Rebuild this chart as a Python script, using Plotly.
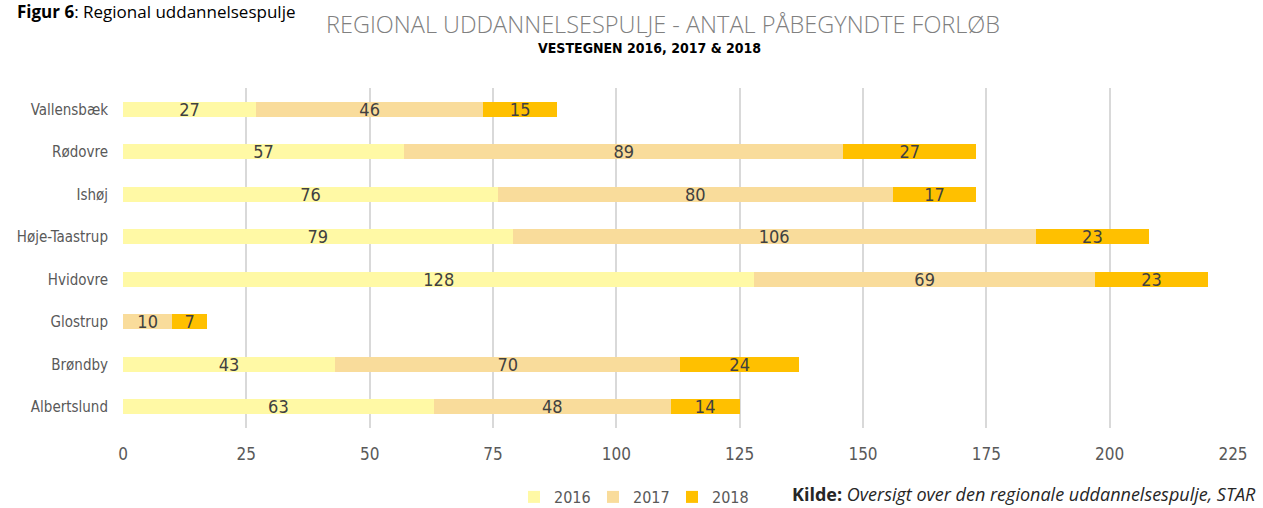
import plotly.graph_objects as go

categories = ["Vallensbæk", "Rødovre", "Ishøj", "Høje-Taastrup", "Hvidovre", "Glostrup", "Brøndby", "Albertslund"]
v2016 = [27, 57, 76, 79, 128, 0, 43, 63]
v2017 = [46, 89, 80, 106, 69, 10, 70, 48]
v2018 = [15, 27, 17, 23, 23, 7, 24, 14]
series = [("2016", v2016, "#FFF9A5"), ("2017", v2017, "#F9DC9B"), ("2018", v2018, "#FFC000")]
tick_vals = [0, 25, 50, 75, 100, 125, 150, 175, 200, 225]

FONT = "DejaVu Sans Condensed, Liberation Sans Narrow, Arial Narrow, Liberation Sans, Arial"

fig = go.Figure()
for name, vals, col in series:
    fig.add_trace(go.Bar(
        y=categories, x=vals, name=name, orientation="h",
        marker=dict(color=col, line=dict(width=0)),
        text=[str(v) if v else "" for v in vals],
        textposition="inside", insidetextanchor="middle", textangle=0,
        textfont=dict(family=FONT, size=18, color="#404040"),
        constraintext="none",
    ))

fig.update_layout(
    barmode="stack", bargap=0.64,
    width=1263, height=508,
    margin=dict(l=123, r=30, t=88, b=80, autoexpand=False),
    paper_bgcolor="white", plot_bgcolor="white",
    font=dict(family=FONT, color="#595959"),
    xaxis=dict(range=[0, 225], tickvals=tick_vals, showgrid=True, gridcolor="#D9D9D9", gridwidth=2,
               zeroline=False, showline=False, tickfont=dict(size=17, color="#595959"), ticks="",
               ticklabelstandoff=14),
    yaxis=dict(autorange="reversed", showgrid=False, showline=False, ticks="",
               tickfont=dict(size=15, color="#595959"), ticklabelstandoff=14),
    legend=dict(orientation="h", x=(514-123)/1110, xanchor="left", y=(428-497)/340, yanchor="middle",
                font=dict(size=16, color="#595959"), traceorder="normal",
                itemwidth=30, tracegroupgap=0, bgcolor="rgba(0,0,0,0)",
                entrywidth=34, entrywidthmode="pixels"),
    showlegend=True,
)

fig.add_annotation(text="<b>Figur 6</b>: Regional uddannelsespulje", xref="paper", yref="paper",
                   x=-123/1110, y=(428-12)/340, xanchor="left", yanchor="middle", showarrow=False,
                   xshift=15, font=dict(family="Open Sans", size=17, color="black"))
fig.add_annotation(text="REGIONAL UDDANNELSESPULJE - ANTAL PÅBEGYNDTE FORLØB", xref="paper", yref="paper",
                   x=(663-123)/1110, y=(428-24)/340, xanchor="center", yanchor="middle", showarrow=False,
                   font=dict(family="Open Sans", size=23.5, color="#808080", weight=300))
fig.add_annotation(text="<b>VESTEGNEN 2016, 2017 & 2018</b>", xref="paper", yref="paper",
                   x=(649-123)/1110, y=(428-48)/340, xanchor="center", yanchor="middle", showarrow=False,
                   font=dict(family=FONT, size=14, color="black"))
fig.add_annotation(text="<b>Kilde:</b> <i>Oversigt over den regionale uddannelsespulje, STAR</i>", xref="paper", yref="paper",
                   x=(790-123)/1110, y=(428-494)/340, xanchor="left", yanchor="middle", showarrow=False,
                   font=dict(family="Open Sans", size=18, color="#262626"))

fig.write_html("out.html", post_script="document.body.style.margin='0';",
               config={"displayModeBar": False})
